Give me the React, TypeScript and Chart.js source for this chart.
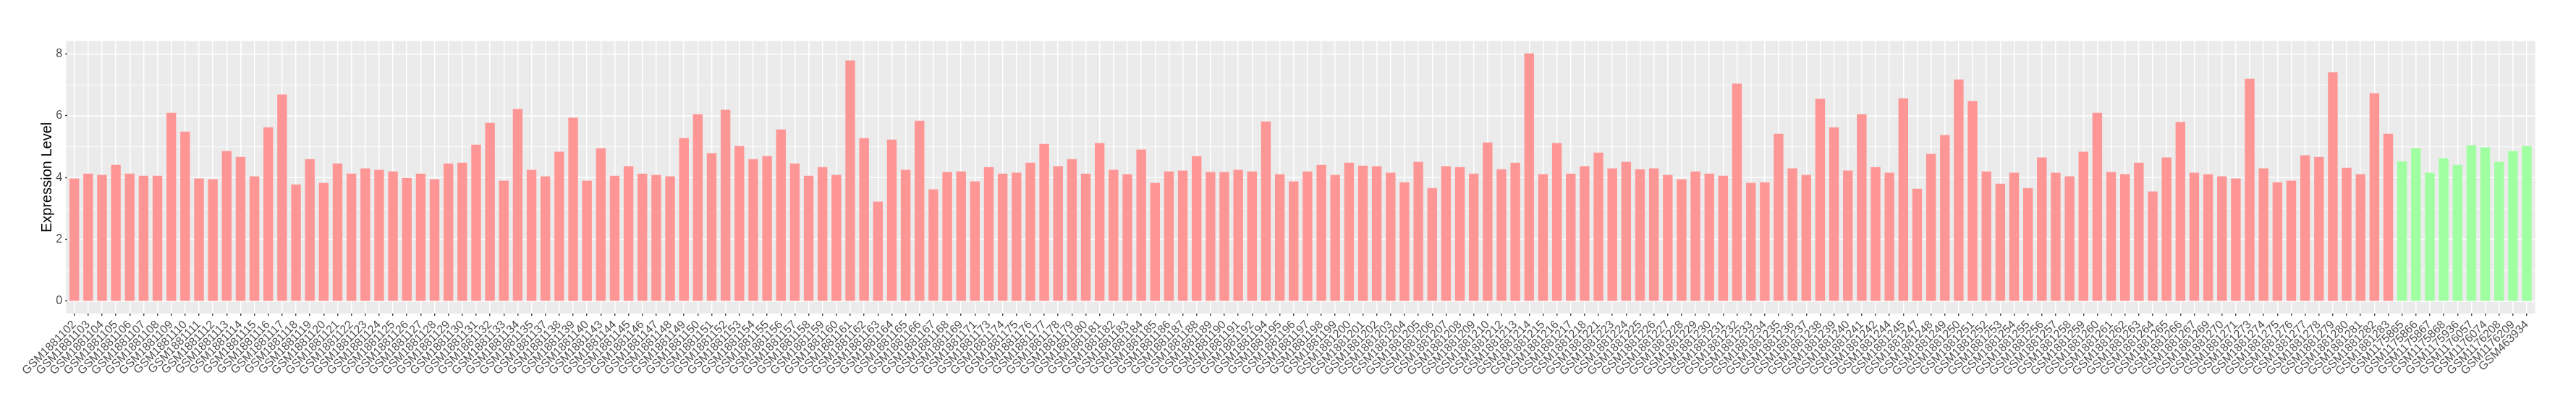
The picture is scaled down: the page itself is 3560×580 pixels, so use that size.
import React, { useEffect, useRef } from "react";
import { Chart, registerables } from "chart.js";

Chart.register(...registerables);

const tumourSamples = [
  "GSM1881102", "GSM1881103", "GSM1881104", "GSM1881105", "GSM1881106", "GSM1881107", "GSM1881108", "GSM1881109",
  "GSM1881110", "GSM1881111", "GSM1881112", "GSM1881113", "GSM1881114", "GSM1881115", "GSM1881116", "GSM1881117",
  "GSM1881118", "GSM1881119", "GSM1881120", "GSM1881121", "GSM1881122", "GSM1881123", "GSM1881124", "GSM1881125",
  "GSM1881126", "GSM1881127", "GSM1881128", "GSM1881129", "GSM1881130", "GSM1881131", "GSM1881132", "GSM1881133",
  "GSM1881134", "GSM1881135", "GSM1881137", "GSM1881138", "GSM1881139", "GSM1881140", "GSM1881143", "GSM1881144",
  "GSM1881145", "GSM1881146", "GSM1881147", "GSM1881148", "GSM1881149", "GSM1881150", "GSM1881151", "GSM1881152",
  "GSM1881153", "GSM1881154", "GSM1881155", "GSM1881156", "GSM1881157", "GSM1881158", "GSM1881159", "GSM1881160",
  "GSM1881161", "GSM1881162", "GSM1881163", "GSM1881164", "GSM1881165", "GSM1881166", "GSM1881167", "GSM1881168",
  "GSM1881169", "GSM1881171", "GSM1881173", "GSM1881174", "GSM1881175", "GSM1881176", "GSM1881177", "GSM1881178",
  "GSM1881179", "GSM1881180", "GSM1881181", "GSM1881182", "GSM1881183", "GSM1881184", "GSM1881185", "GSM1881186",
  "GSM1881187", "GSM1881188", "GSM1881189", "GSM1881190", "GSM1881191", "GSM1881192", "GSM1881194", "GSM1881195",
  "GSM1881196", "GSM1881197", "GSM1881198", "GSM1881199", "GSM1881200", "GSM1881201", "GSM1881202", "GSM1881203",
  "GSM1881204", "GSM1881205", "GSM1881206", "GSM1881207", "GSM1881208", "GSM1881209", "GSM1881210", "GSM1881212",
  "GSM1881213", "GSM1881214", "GSM1881215", "GSM1881216", "GSM1881217", "GSM1881218", "GSM1881221", "GSM1881223",
  "GSM1881224", "GSM1881225", "GSM1881226", "GSM1881227", "GSM1881228", "GSM1881229", "GSM1881230", "GSM1881231",
  "GSM1881232", "GSM1881233", "GSM1881234", "GSM1881235", "GSM1881236", "GSM1881237", "GSM1881238", "GSM1881239",
  "GSM1881240", "GSM1881241", "GSM1881242", "GSM1881244", "GSM1881245", "GSM1881247", "GSM1881248", "GSM1881249",
  "GSM1881250", "GSM1881251", "GSM1881252", "GSM1881253", "GSM1881254", "GSM1881255", "GSM1881256", "GSM1881257",
  "GSM1881258", "GSM1881259", "GSM1881260", "GSM1881261", "GSM1881262", "GSM1881263", "GSM1881264", "GSM1881265",
  "GSM1881266", "GSM1881267", "GSM1881269", "GSM1881270", "GSM1881271", "GSM1881273", "GSM1881274", "GSM1881275",
  "GSM1881276", "GSM1881277", "GSM1881278", "GSM1881279", "GSM1881280", "GSM1881281", "GSM1881282", "GSM1881283",
];

const tumourValues = [
  3.97, 4.13, 4.09, 4.41, 4.13, 4.06, 4.06, 6.10,
  5.49, 3.97, 3.95, 4.86, 4.67, 4.04, 5.63, 6.69,
  3.78, 4.60, 3.83, 4.46, 4.13, 4.30, 4.25, 4.20,
  3.99, 4.13, 3.95, 4.46, 4.48, 5.07, 5.77, 3.90,
  6.22, 4.25, 4.04, 4.84, 5.94, 3.90, 4.95, 4.06,
  4.37, 4.13, 4.09, 4.04, 5.28, 6.05, 4.79, 6.20,
  5.02, 4.60, 4.70, 5.56, 4.46, 4.06, 4.34, 4.09,
  7.79, 5.28, 3.22, 5.23, 4.25, 5.84, 3.62, 4.18,
  4.20, 3.88, 4.34, 4.13, 4.16, 4.48, 5.09, 4.37,
  4.60, 4.13, 5.12, 4.25, 4.11, 4.91, 3.83, 4.20,
  4.23, 4.70, 4.18, 4.18, 4.25, 4.20, 5.82, 4.11,
  3.88, 4.20, 4.41, 4.09, 4.48, 4.39, 4.37, 4.16,
  3.85, 4.51, 3.66, 4.37, 4.34, 4.13, 5.14, 4.27,
  4.48, 8.02, 4.11, 5.12, 4.13, 4.37, 4.81, 4.30,
  4.51, 4.27, 4.30, 4.09, 3.95, 4.20, 4.13, 4.06,
  7.04, 3.83, 3.85, 5.42, 4.30, 4.09, 6.55, 5.63,
  4.23, 6.05, 4.34, 4.16, 6.57, 3.64, 4.77, 5.38,
  7.18, 6.48, 4.20, 3.80, 4.16, 3.66, 4.65, 4.16,
  4.04, 4.84, 6.10, 4.18, 4.11, 4.48, 3.55, 4.65,
  5.80, 4.16, 4.11, 4.04, 3.97, 7.20, 4.30, 3.85,
  3.90, 4.72, 4.67, 7.41, 4.32, 4.11, 6.73, 5.42,
];

const normalSamples = [
  "GSM1175865", "GSM1175866", "GSM1175867", "GSM1175868", "GSM1175936",
  "GSM1176057", "GSM1176074", "GSM1176208", "GSM1176209", "GSM463934",
];

const normalValues = [4.53, 4.95, 4.16, 4.63, 4.41, 5.05, 4.98, 4.51, 4.86, 5.02];

const yTicks = [0, 2, 4, 6, 8];

const TUMOUR_FILL = "#FF9696";
const NORMAL_FILL = "#A0FFA0";
const FONT = "'Liberation Sans', Arial, Helvetica, sans-serif";

const panelPlugin = {
  id: "ggPanel",
  beforeDraw(chart: any) {
    const { ctx, chartArea, scales } = chart;
    const xs = scales.x;
    const ys = scales.y;
    const n = xs.getLabels().length;
    const step = (chartArea.right - chartArea.left) / n;
    const ext = step * 0.1;
    const l = chartArea.left - ext;
    const r = chartArea.right + ext;
    ctx.save();
    ctx.fillStyle = "#EBEBEB";
    ctx.fillRect(l, chartArea.top, r - l, chartArea.bottom - chartArea.top);
    ctx.strokeStyle = "#FFFFFF";
    // minor lines halfway between major ticks
    ctx.lineWidth = 0.8;
    for (let i = 0; i < yTicks.length - 1; i++) {
      const v = (yTicks[i] + yTicks[i + 1]) / 2;
      const py = ys.getPixelForValue(v);
      ctx.beginPath();
      ctx.moveTo(l, py);
      ctx.lineTo(r, py);
      ctx.stroke();
    }
    ctx.lineWidth = 1.5;
    for (const v of yTicks) {
      const py = ys.getPixelForValue(v);
      ctx.beginPath();
      ctx.moveTo(l, py);
      ctx.lineTo(r, py);
      ctx.stroke();
    }
    ctx.restore();
  },
};

export default function App() {
  const canvasRef = useRef<HTMLCanvasElement | null>(null);

  useEffect(() => {
    document.body.style.margin = "0";
    document.body.style.overflow = "hidden";
    const canvas = canvasRef.current;
    if (!canvas) return;
    const labels = [...tumourSamples, ...normalSamples];
    const values = [...tumourValues, ...normalValues];
    const colors = [
      ...tumourSamples.map(() => TUMOUR_FILL),
      ...normalSamples.map(() => NORMAL_FILL),
    ];
    const chart = new Chart(canvas, {
      type: "bar",
      data: {
        labels,
        datasets: [
          {
            data: values,
            backgroundColor: colors,
            borderWidth: 0,
            barPercentage: 0.7,
            categoryPercentage: 1,
          },
        ],
      },
      options: {
        responsive: false,
        animation: false,
        devicePixelRatio: 1,
        layout: { padding: { top: 56.7, right: 58.4, left: 0, bottom: 0 } },
        plugins: {
          legend: { display: false },
          tooltip: { enabled: false },
        },
        scales: {
          x: {
            type: "category",
            offset: true,
            grid: {
              offset: false,
              color: "#FFFFFF",
              lineWidth: 1.5,
              tickColor: "#333333",
              tickLength: 3,
              tickWidth: 1.4,
            },
            border: { display: false },
            ticks: {
              autoSkip: false,
              maxRotation: 45,
              minRotation: 45,
              padding: 3,
              color: "#4D4D4D",
              font: { size: 16, family: FONT },
            },
            afterFit: (s: any) => {
              s.height = 147;
            },
          },
          y: {
            min: -0.401,
            max: 8.421,
            afterBuildTicks: (s: any) => {
              s.ticks = yTicks.map((v) => ({ value: v }));
            },
            grid: {
              drawOnChartArea: false,
              tickColor: "#333333",
              tickLength: 3,
              tickWidth: 1.4,
            },
            border: { display: false },
            ticks: {
              padding: 4,
              color: "#4D4D4D",
              font: { size: 16, family: FONT },
            },
            title: {
              display: true,
              text: "Expression Level",
              color: "#000000",
              font: { size: 20, family: FONT },
              padding: { top: 53, bottom: 0 },
            },
            afterFit: (s: any) => {
              s.width = 93.1;
            },
          },
        },
      },
      plugins: [panelPlugin],
    });
    return () => chart.destroy();
  }, []);

  return (
    <div style={{ width: 3560, height: 580, background: "#FFFFFF" }}>
      <canvas ref={canvasRef} width={3560} height={580} style={{ display: "block" }} />
    </div>
  );
}
